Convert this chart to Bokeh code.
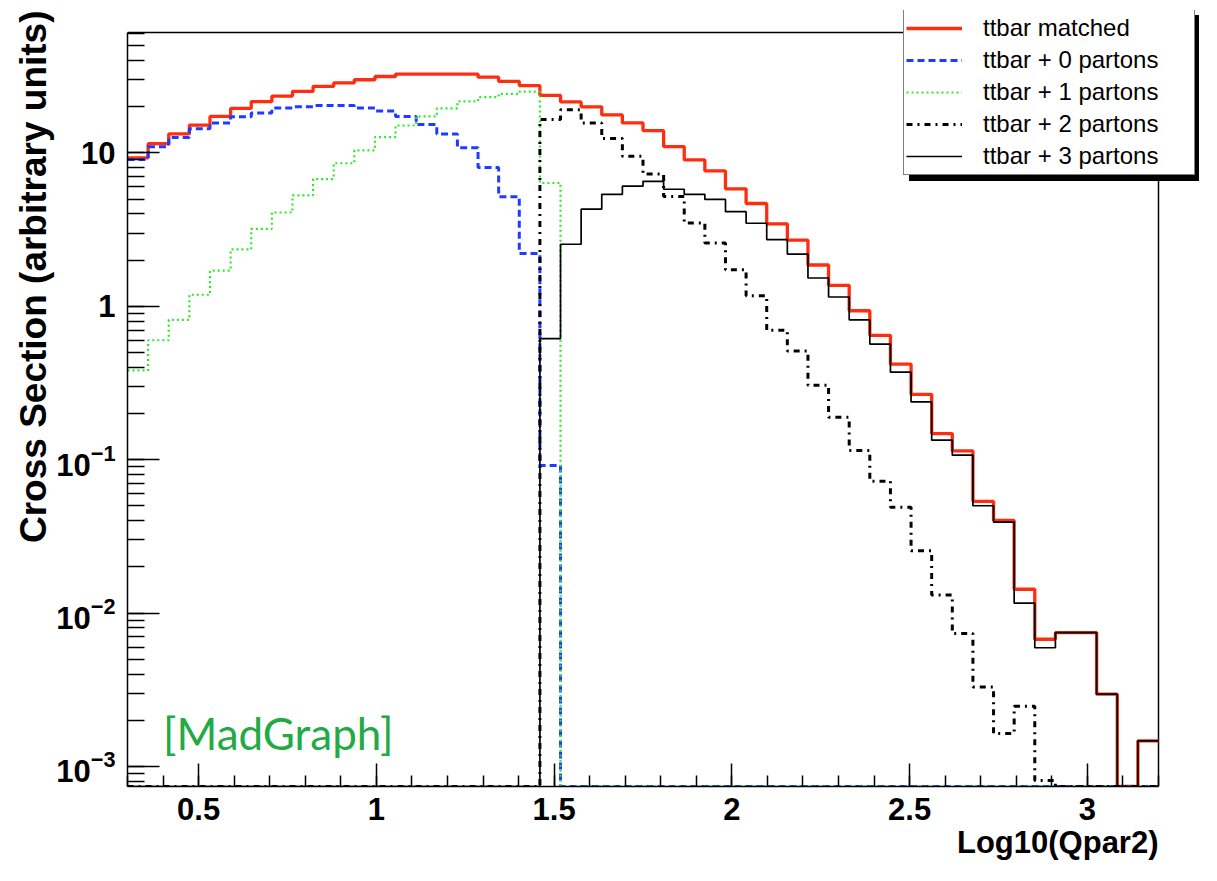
import math
from bokeh.plotting import figure
from bokeh.models import (Range1d, LogTicker, SingleIntervalTicker, Legend,
                          LegendItem, Label, Title)
from bokeh.embed import file_html
from bokeh.resources import INLINE

# ---------------- data ----------------
x_lo = 0.3
x_hi = 3.2
n_bins = 50

matched = [9.3, 11.5, 13.3, 15.2, 17.3, 19.5, 21.6, 23.5, 25.2, 27.2,
           28.6, 30.0, 31.5, 32.7, 32.7, 32.7, 32.7, 31.2, 29.3, 27.5,
           23.7, 21.5, 20.0, 17.7, 15.7, 14.0, 11.0, 9.0, 7.64, 5.84,
           4.68, 3.45, 2.70, 1.86, 1.37, 0.936, 0.647, 0.42, 0.267, 0.148,
           0.114, 0.0535, 0.0402, 0.0143, 0.00675, 0.00746, 0.00746, 0.00296, 0.0, 0.00147]

partons0 = [9.08, 10.96, 12.6, 14.4, 15.7, 17.2, 18.2, 19.6, 20.0, 20.4,
            20.4, 19.6, 18.8, 17.3, 15.3, 13.3, 10.8, 8.04, 5.19, 2.21,
            0.0918, 0, 0, 0, 0, 0, 0, 0, 0, 0,
            0, 0, 0, 0, 0, 0, 0, 0, 0, 0,
            0, 0, 0, 0, 0, 0, 0, 0, 0, 0]

partons1 = [0.382, 0.601, 0.817, 1.19, 1.71, 2.35, 3.2, 4.09, 5.29, 6.76,
            8.57, 10.4, 12.7, 15.1, 17.3, 19.5, 21.7, 23.1, 24.3, 25.1,
            6.37, 0, 0, 0, 0, 0, 0, 0, 0, 0,
            0, 0, 0, 0, 0, 0, 0, 0, 0, 0,
            0, 0, 0, 0, 0, 0, 0, 0, 0, 0]

partons2 = [0, 0, 0, 0, 0, 0, 0, 0, 0, 0,
            0, 0, 0, 0, 0, 0, 0, 0, 0, 0,
            16.5, 19.1, 15.7, 12.4, 9.5, 7.28, 5.2, 3.5, 2.59, 1.73,
            1.17, 0.697, 0.511, 0.306, 0.189, 0.115, 0.0724, 0.0489, 0.0255, 0.0131,
            0.00736, 0.0033, 0.00164, 0.00247, 0.00081, 0, 0, 0, 0, 0]

partons3 = [0, 0, 0, 0, 0, 0, 0, 0, 0, 0,
            0, 0, 0, 0, 0, 0, 0, 0, 0, 0,
            0.616, 2.54, 4.30, 5.37, 6.07, 6.53, 5.8, 5.37, 4.98, 4.14,
            3.48, 2.72, 2.19, 1.53, 1.15, 0.815, 0.567, 0.372, 0.238, 0.134,
            0.107, 0.0501, 0.0392, 0.0116, 0.00594, 0.00746, 0.00746, 0.00296, 0.0, 0.00147]

labels = ["ttbar matched", "ttbar + 0 partons", "ttbar + 1 partons",
          "ttbar + 2 partons", "ttbar + 3 partons"]

y_lo = 7.4e-4
y_hi = 61.0

edges = [x_lo + (x_hi - x_lo) * i / n_bins for i in range(n_bins + 1)]


def step_y(vals):
    ys = [v if v > 0 else y_lo for v in vals]
    return ys + [ys[-1]]


# ---------------- layout (pixels) ----------------
W, H = 1201, 865
B_LEFT, B_RIGHT, B_TOP, B_BOTTOM = 127, 2, 10, 79
frame_w = W - B_LEFT - B_RIGHT
frame_h = H - B_TOP - B_BOTTOM
# ROOT frame inside the bokeh frame (extra room on top/right for the legend)
root_right_px = 1158 - B_LEFT          # px from frame left where x_hi sits
root_top_px = 32 - B_TOP               # px from frame top where y_hi sits
x_per_px = (x_hi - x_lo) / root_right_px
x_view_hi = x_lo + frame_w * x_per_px
dec_per_px = (math.log10(y_hi) - math.log10(y_lo)) / (frame_h - root_top_px)
y_view_hi = 10 ** (math.log10(y_hi) + root_top_px * dec_per_px)

# ---------------- figure ----------------
p = figure(width=W, height=H,
           x_range=Range1d(x_lo, x_view_hi), y_range=Range1d(y_lo, y_view_hi),
           y_axis_type="log", output_backend="svg", toolbar_location=None,
           min_border_left=B_LEFT, min_border_right=B_RIGHT,
           min_border_top=B_TOP, min_border_bottom=B_BOTTOM)
p.background_fill_color = "white"
p.border_fill_color = "white"
p.outline_line_color = None
p.grid.visible = False

FONT = "Liberation Sans"

p.xaxis.ticker = SingleIntervalTicker(interval=0.5, num_minor_ticks=5)
p.xaxis.major_label_overrides = {1: "1", 2: "2", 3: "3"}
p.xaxis.bounds = (x_lo, x_hi)
p.yaxis.ticker = LogTicker(num_minor_ticks=10)
p.yaxis.major_label_overrides = {10: "10", 1: "1"}
p.yaxis.bounds = (y_lo, y_hi)

for ax in (p.xaxis[0], p.yaxis[0]):
    ax.axis_line_color = "black"
    ax.axis_line_width = 1.5
    ax.major_tick_line_color = "black"
    ax.minor_tick_line_color = "black"
    ax.major_tick_line_width = 1.5
    ax.minor_tick_line_width = 1.5
    ax.major_tick_out = 0
    ax.minor_tick_out = 0
    ax.major_label_text_font = FONT
    ax.major_label_text_font_style = "bold"
    ax.major_label_text_font_size = "31px"
    ax.major_label_text_color = "black"

p.xaxis.major_tick_in = 23
p.xaxis.minor_tick_in = 11
p.xaxis.major_label_standoff = 11
p.yaxis.major_tick_in = 32
p.yaxis.minor_tick_in = 17
p.yaxis.major_label_standoff = 12

# ROOT frame: top and right edges
p.line([x_lo, x_hi, x_hi], [y_hi, y_hi, y_lo], line_color="black", line_width=1.5)

# ---------------- histograms ----------------
r_red = p.step(edges, step_y(matched), mode="after", line_color="#ff2d0f", line_width=3.3)
r_b0 = p.step(edges, step_y(partons0), mode="after", line_color="#1e3cff", line_width=3,
              line_dash="7 4")
r_g1 = p.step(edges, step_y(partons1), mode="after", line_color="#2ee82e", line_width=2.2,
              line_dash="2 3")
r_k2 = p.step(edges, step_y(partons2), mode="after", line_color="black", line_width=3,
              line_dash="6 5 2 5")
r_k3 = p.step(edges, step_y(partons3), mode="after", line_color="black", line_width=1.7)
renderers = [r_red, r_b0, r_g1, r_k2, r_k3]

# ---------------- titles ----------------
xt = Title(text="Log10(Qpar2)", align="right", text_font=FONT, text_font_style="bold",
           text_font_size="31px", text_color="black", standoff=0,
           offset=W - B_RIGHT - 1158)
p.add_layout(xt, "below")
yt = Title(text="Cross Section (arbitrary units)", align="right", text_font=FONT,
           text_font_style="bold", text_font_size="37px", text_color="black", standoff=0)
p.add_layout(yt, "left")

p.add_layout(Label(x=0.4, y=0.00164, text="[MadGraph]", text_font="Lato",
                   text_font_size="44px", text_color="#22aa44",
                   text_baseline="alphabetic"))


# ---------------- legend (with ROOT-style shadow) ----------------
LEG_LEFT, LEG_BOTTOM = 903, 175            # px in the picture
leg_x = LEG_LEFT - B_LEFT
leg_y = (H - B_BOTTOM) - LEG_BOTTOM


def make_legend(loc, shadow):
    items = [LegendItem(label=(" " if shadow else lab), renderers=[r])
             for lab, r in zip(labels, renderers)]
    return Legend(items=items, location=loc, orientation="vertical",
                  padding=2, spacing=0, margin=0,
                  glyph_width=56, glyph_height=32, label_height=32, label_width=209,
                  label_standoff=21, label_text_font=FONT, label_text_font_size="24px",
                  label_text_color="black",
                  border_line_color="black", border_line_width=1.5,
                  background_fill_color="black" if shadow else "white",
                  background_fill_alpha=1.0)


p.add_layout(make_legend((leg_x + 6, leg_y - 6), True))
p.add_layout(make_legend((leg_x, leg_y), False))

open("out.html", "w").write(file_html(p, INLINE))
